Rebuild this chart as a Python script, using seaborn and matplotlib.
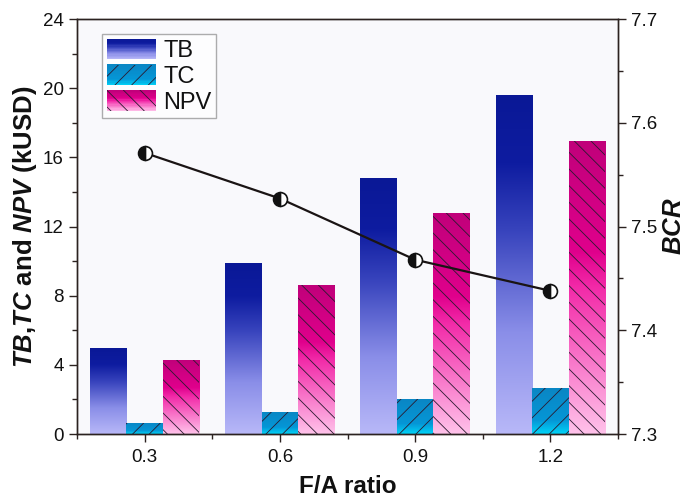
import matplotlib
matplotlib.use("Agg")
import matplotlib.pyplot as plt
import seaborn as sns
import pandas as pd
import numpy as np
from matplotlib.colors import LinearSegmentedColormap
from matplotlib.patches import Rectangle
from matplotlib.legend_handler import HandlerBase
from matplotlib.ticker import MultipleLocator

# data
fa_ratio = ["0.3", "0.6", "0.9", "1.2"]
tb = [5.0, 9.9, 14.8, 19.6]
tc = [0.65, 1.3, 2.0, 2.65]
npv = [4.3, 8.6, 12.8, 16.95]
bcr = [7.571, 7.527, 7.468, 7.438]
series = ["TB", "TC", "NPV"]

df = pd.DataFrame({"F/A": fa_ratio * 3,
                   "value": tb + tc + npv,
                   "series": ["TB"] * 4 + ["TC"] * 4 + ["NPV"] * 4})

sns.set_style("ticks")
plt.rcParams["font.family"] = ["Liberation Sans", "DejaVu Sans"]
plt.rcParams["mathtext.fontset"] = "custom"
plt.rcParams["mathtext.rm"] = "Liberation Sans:bold"
plt.rcParams["mathtext.bf"] = "Liberation Sans:bold"
plt.rcParams["mathtext.it"] = "Liberation Sans:italic:bold"
plt.rcParams["hatch.linewidth"] = 0.6
for k in ["text.color", "axes.labelcolor", "xtick.color", "ytick.color"]:
    plt.rcParams[k] = "#111111"

grads = {
    "TB": LinearSegmentedColormap.from_list("tb", [(0, "#b8b8f8"), (0.3, "#8a8ee8"), (0.6, "#3844bd"), (0.8, "#0e1ca0"), (1, "#0a1896")]),
    "TC": LinearSegmentedColormap.from_list("tc", [(0, "#00d4f8"), (0.3, "#0596d6"), (1, "#0a86c4")]),
    "NPV": LinearSegmentedColormap.from_list("npv", [(0, "#ffc2ea"), (0.5, "#f22aa8"), (0.62, "#e0008c"), (1, "#c0007a")]),
}
hatches = {"TB": "", "TC": "//", "NPV": "\\\\"}

fig = plt.figure(figsize=(6.89, 4.98), dpi=100)
ax = fig.add_axes([0.1118, 0.1285, 0.7852, 0.8333])
ax.set_facecolor("#f9f9fc")

sns.barplot(data=df, x="F/A", y="value", hue="series", hue_order=series,
            width=0.81, ax=ax, legend=False, saturation=1)

grad = np.linspace(0, 1, 256).reshape(-1, 1)
for name, cont in zip(series, ax.containers):
    for bar in cont:
        x0, y0 = bar.get_x(), bar.get_y()
        w, h = bar.get_width(), bar.get_height()
        im = ax.imshow(grad, cmap=grads[name], origin="lower", aspect="auto",
                       extent=[x0, x0 + w, y0, y0 + h], zorder=1)
        im.set_clip_path(bar)
        bar.set_facecolor("none")
        bar.set_edgecolor("#2a1a30")
        bar.set_linewidth(0)
        bar.set_hatch(hatches[name])
        bar.set_zorder(2)

ax.set_xlim(-0.5, 3.5)
ax.set_ylim(0, 24)
ax.yaxis.set_major_locator(MultipleLocator(4))
ax.yaxis.set_minor_locator(MultipleLocator(2))
ax.xaxis.set_minor_locator(MultipleLocator(0.5))
ax.set_xticks(range(4))
ax.set_xticklabels(fa_ratio)
ax.set_xlabel("F/A ratio", fontsize=17.5, fontweight="bold", labelpad=6)
ax.set_ylabel(r"$\mathit{TB}$,$\mathit{TC}$ and $\mathit{NPV}$ (kUSD)", fontsize=18.5,
              fontweight="bold", labelpad=3)
for s in ax.spines.values():
    s.set_color("#2b2220")
    s.set_linewidth(1.0)
ax.tick_params(which="major", direction="out", length=6, width=1, labelsize=13.5, color="#2b2220")
ax.tick_params(axis="x", which="major", pad=5)
ax.tick_params(which="minor", direction="out", length=3.5, width=1, color="#2b2220")


class GradHandler(HandlerBase):
    def __init__(self, cmap, hatch):
        super().__init__()
        self.cmap = cmap
        self.hatch = hatch

    def create_artists(self, legend, orig_handle, xdescent, ydescent, width, height, fontsize, trans):
        arts = []
        n = 16
        for i in range(n):
            r = Rectangle((-xdescent, -ydescent + height * i / n), width, height / n + 0.3,
                          facecolor=self.cmap((i + 0.5) / n), edgecolor="none", transform=trans)
            arts.append(r)
        if self.hatch:
            arts.append(Rectangle((-xdescent, -ydescent), width, height, facecolor="none",
                                  edgecolor="#2a1a30", linewidth=0, hatch=self.hatch, transform=trans))
        return arts


handles = [Rectangle((0, 0), 1, 1) for _ in series]
hmap = {h: GradHandler(grads[s], hatches[s]) for h, s in zip(handles, series)}
leg = ax.legend(handles, series, handler_map=hmap, loc="upper left",
                bbox_to_anchor=(0.046, 0.963), fontsize=17, frameon=True, fancybox=False,
                handlelength=2.1, handleheight=0.95, handletextpad=0.3, labelspacing=0.1,
                borderpad=0.2, borderaxespad=0)
leg.get_frame().set_edgecolor("#999999")
leg.get_frame().set_linewidth(1.0)

ax2 = ax.twinx()
sns.lineplot(x=list(range(4)), y=bcr, ax=ax2, color="#1a1414", linewidth=1.6,
             marker="o", markersize=10, fillstyle="left", markerfacecolor="#111111",
             markerfacecoloralt="white", markeredgecolor="#111111", markeredgewidth=1.2)
ax2.set_ylim(7.3, 7.7)
ax2.yaxis.set_major_locator(MultipleLocator(0.1))
ax2.yaxis.set_minor_locator(MultipleLocator(0.05))
ax2.set_ylabel(r"$\mathit{BCR}$", fontsize=18.5, labelpad=3)
ax2.tick_params(which="major", direction="out", length=6, width=1, labelsize=13.5, color="#2b2220")
ax2.tick_params(which="minor", direction="out", length=3.5, width=1, color="#2b2220")
for s in ax2.spines.values():
    s.set_color("#2b2220")
    s.set_linewidth(1.0)
ax2.set_xlim(-0.5, 3.5)

fig.savefig("out.png", dpi=100)
